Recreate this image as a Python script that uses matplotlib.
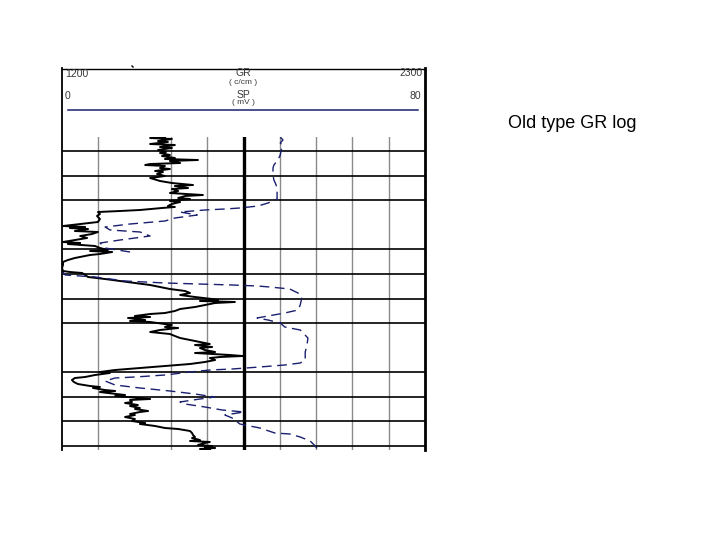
import numpy as np
import matplotlib
matplotlib.use("Agg")
import matplotlib.pyplot as plt

plt.rcParams['font.family'] = ['Liberation Sans', 'DejaVu Sans']

# ---------------- data ----------------
# depth (relative units, increasing downward)
gr_depth = [0, 1, 2, 4, 5, 7, 8, 10, 11, 13, 15, 16, 18, 19, 21, 22, 23, 24, 26, 27,
            28, 29, 31, 32, 34, 35, 37, 39, 41, 44, 46, 48, 49, 51, 52, 54, 56, 58, 59, 61,
            62, 64, 65, 67, 69, 70, 71, 73, 74, 75, 77, 79, 82, 85, 87, 89, 90, 91, 92, 94,
            95, 97, 99, 101, 103, 105, 106, 107, 109, 111, 113, 114, 115, 117, 118, 120, 121, 123, 125, 128,
            131, 134, 135, 136, 138, 140, 142, 144, 146, 148, 150, 152, 154, 156, 158, 160, 162, 163, 164, 165,
            166, 168, 170, 172, 174, 176, 177, 179, 180, 181, 183, 184, 185, 187, 188, 190, 191, 193, 195, 197,
            199, 201, 203, 205, 207, 208, 210, 211, 213, 215, 216, 218, 219, 220, 221, 223, 225, 227, 229, 231,
            233, 234, 235, 236, 238, 240, 241, 243, 245, 247, 249, 250, 251, 253, 254, 255, 256, 258, 259, 261,
            262, 263, 265, 266, 268, 269, 271, 272, 274, 275, 277, 278, 280, 282, 284, 286, 287, 289, 291, 292,
            294, 296, 298, 300, 301, 303, 304, 305, 306, 308, 309, 310, 311, 312, 313]
# gamma ray (c/cm)
gr_value = [1512, 1467, 1533, 1491, 1521, 1467, 1542, 1497, 1533, 1491, 1515, 1497, 1527, 1503, 1542, 1512, 1612, 1527, 1558, 1467,
            1452, 1512, 1497, 1527, 1482, 1506, 1488, 1512, 1467, 1497, 1533, 1597, 1542, 1582, 1533, 1552, 1527, 1627, 1573, 1552,
            1588, 1527, 1558, 1533, 1521, 1542, 1503, 1436, 1376, 1309, 1315, 1306, 1315, 1309, 1255, 1203, 1270, 1224, 1279, 1239,
            1309, 1291, 1255, 1276, 1239, 1203, 1255, 1218, 1300, 1315, 1339, 1285, 1352, 1315, 1285, 1255, 1239, 1218, 1203, 1203,
            1200, 1203, 1224, 1261, 1270, 1279, 1330, 1376, 1421, 1467, 1497, 1527, 1573, 1588, 1558, 1603, 1655, 1673, 1618, 1724,
            1664, 1633, 1603, 1558, 1542, 1512, 1467, 1421, 1467, 1400, 1452, 1406, 1467, 1512, 1533, 1512, 1552, 1497, 1467, 1527,
            1542, 1558, 1588, 1618, 1648, 1603, 1655, 1618, 1633, 1664, 1603, 1709, 1748, 1679, 1648, 1664, 1633, 1588, 1512, 1436,
            1361, 1339, 1315, 1345, 1300, 1270, 1239, 1230, 1236, 1248, 1285, 1315, 1294, 1330, 1361, 1315, 1339, 1391, 1361, 1436,
            1467, 1406, 1412, 1391, 1430, 1406, 1436, 1421, 1461, 1436, 1406, 1421, 1391, 1421, 1412, 1452, 1436, 1482, 1512, 1552,
            1588, 1594, 1597, 1603, 1594, 1618, 1588, 1648, 1633, 1612, 1655, 1633, 1664, 1618, 1648]

# spontaneous potential (mV); NaN marks the gap in the trace
sp_depth = [0, 3, 6, 9, 13, 18, 23, 28, 31, 38, 43, 48, 53, 58, 62, 66, 69, 71, 72, 73,
            75, 78, 81, 84, 87, 90, 93, 95, 99, 103, 106, 111, 115, 125,
            135, 138, 140, 144, 146, 148, 149, 150, 152, 156, 160, 168, 173, 176, 179, 181,
            183, 186, 190, 193, 201, 208, 215, 223, 226, 228, 230, 232, 233, 235, 238, 240, 241, 244,
            248, 251, 254, 257, 260, 262, 265, 267, 270, 273, 275, 278, 281, 283, 287, 291,
            296, 297, 300, 304, 309, 313]
sp_value = [48.1, 48.7, 48.1, 48.7, 48.3, 48.1, 47.6, 46.7, 46.5, 46.5, 46.7, 47.2, 47.4, 47.4, 47.4, 45.4, 43.2, 39.2, 35.9, 31.5,
            26.0, 29.8, 24.9, 22.7, 15.0, 9.5, 10.6, 17.2, 19.4, 12.8, 8.4, 9.5, 15.0, np.nan,
            0.2, 0.7, 7.3, 13.9, 22.7, 37.5, 43.0, 45.8, 50.2, 52.0, 52.9, 52.5, 52.0, 49.1, 45.4, 43.0,
            45.4, 48.1, 49.1, 52.5, 54.2, 54.0, 53.6, 53.6, 52.5, 49.1, 43.6, 37.5, 32.6, 28.2, 22.7, 16.1, 11.7, 9.5,
            11.7, 17.2, 23.8, 29.3, 33.7, 30.4, 26.0, 27.1, 31.5, 35.3, 40.1, 35.9, 37.5, 38.1, 39.2, 43.6,
            46.9, 50.2, 52.5, 54.7, 55.8, 56.4]

gr_range = [1200, 2300]
sp_range = [0, 80]
depth_range = [0, 313]
gr_grid = [1310, 1530, 1640, 1860, 1970, 2080, 2190]
gr_midline = 1750
depth_grid = [14, 39, 63, 112, 137, 162, 186, 235, 260, 284, 309]

# ---------------- figure ----------------
W, H = 720, 540
fig = plt.figure(figsize=(7.2, 5.4), dpi=100)
fig.patch.set_facecolor('white')

def frac(x0, y0, x1, y1):
    return [x0 / W, 1 - y1 / H, (x1 - x0) / W, (y1 - y0) / H]

# header / frame overlay in pixel coords
bg = fig.add_axes([0, 0, 1, 1])
bg.set_xlim(0, W)
bg.set_ylim(H, 0)
bg.axis('off')
bg.plot([62, 425], [68.5, 68.5], color='black', lw=1.0)
bg.plot([62, 62], [68, 450], color='black', lw=1.3)
bg.plot([425, 425], [68, 450], color='black', lw=2.0)
bg.plot([132, 133], [66, 67], color='black', lw=1.0)
bg.plot([68, 418], [110, 110], color='#1a1f6e', lw=1.1)
tc = '#3a3a3a'
bg.text(65, 74, '1200', fontsize=7.5, color=tc, ha='left', va='center')
bg.text(243, 73, 'GR', fontsize=7.5, color=tc, ha='center', va='center')
bg.text(243, 82, '( c/cm )', fontsize=6, color=tc, ha='center', va='center')
bg.text(423, 73, '2300', fontsize=7.5, color=tc, ha='right', va='center')
bg.text(65, 96, '0', fontsize=7.5, color=tc, ha='left', va='center')
bg.text(243, 95, 'SP', fontsize=7.5, color=tc, ha='center', va='center')
bg.text(243, 103, '( mV )', fontsize=6, color=tc, ha='center', va='center')
bg.text(421, 96, '80', fontsize=7.5, color=tc, ha='right', va='center')
bg.text(508, 124, 'Old type GR log', fontsize=13, color='black', ha='left', va='center')

# log track
ax = fig.add_axes(frac(62, 137, 425, 450))
ax.set_xlim(*gr_range)
ax.set_ylim(depth_range[1], depth_range[0])
for s in ax.spines.values():
    s.set_visible(False)
ax.set_xticks([])
ax.set_yticks([])
ax.patch.set_alpha(0)

for g in gr_grid:
    ax.axvline(g, color='#8a8a8a', lw=1.0, zorder=1)
ax.axvline(gr_midline, color='black', lw=2.4, zorder=1)
for d in depth_grid:
    ax.axhline(d, color='black', lw=1.2, zorder=1)

ax.plot(gr_value, gr_depth, color='black', lw=1.4, zorder=3)

ax2 = ax.twiny()
ax2.set_xlim(*sp_range)
ax2.set_ylim(depth_range[1], depth_range[0])
for s in ax2.spines.values():
    s.set_visible(False)
ax2.set_xticks([])
ax2.set_yticks([])
ax2.plot(sp_value, sp_depth, color='#1a1f6e', lw=1.0, dashes=(7, 4), zorder=2)

fig.savefig('out.png', dpi=100)
